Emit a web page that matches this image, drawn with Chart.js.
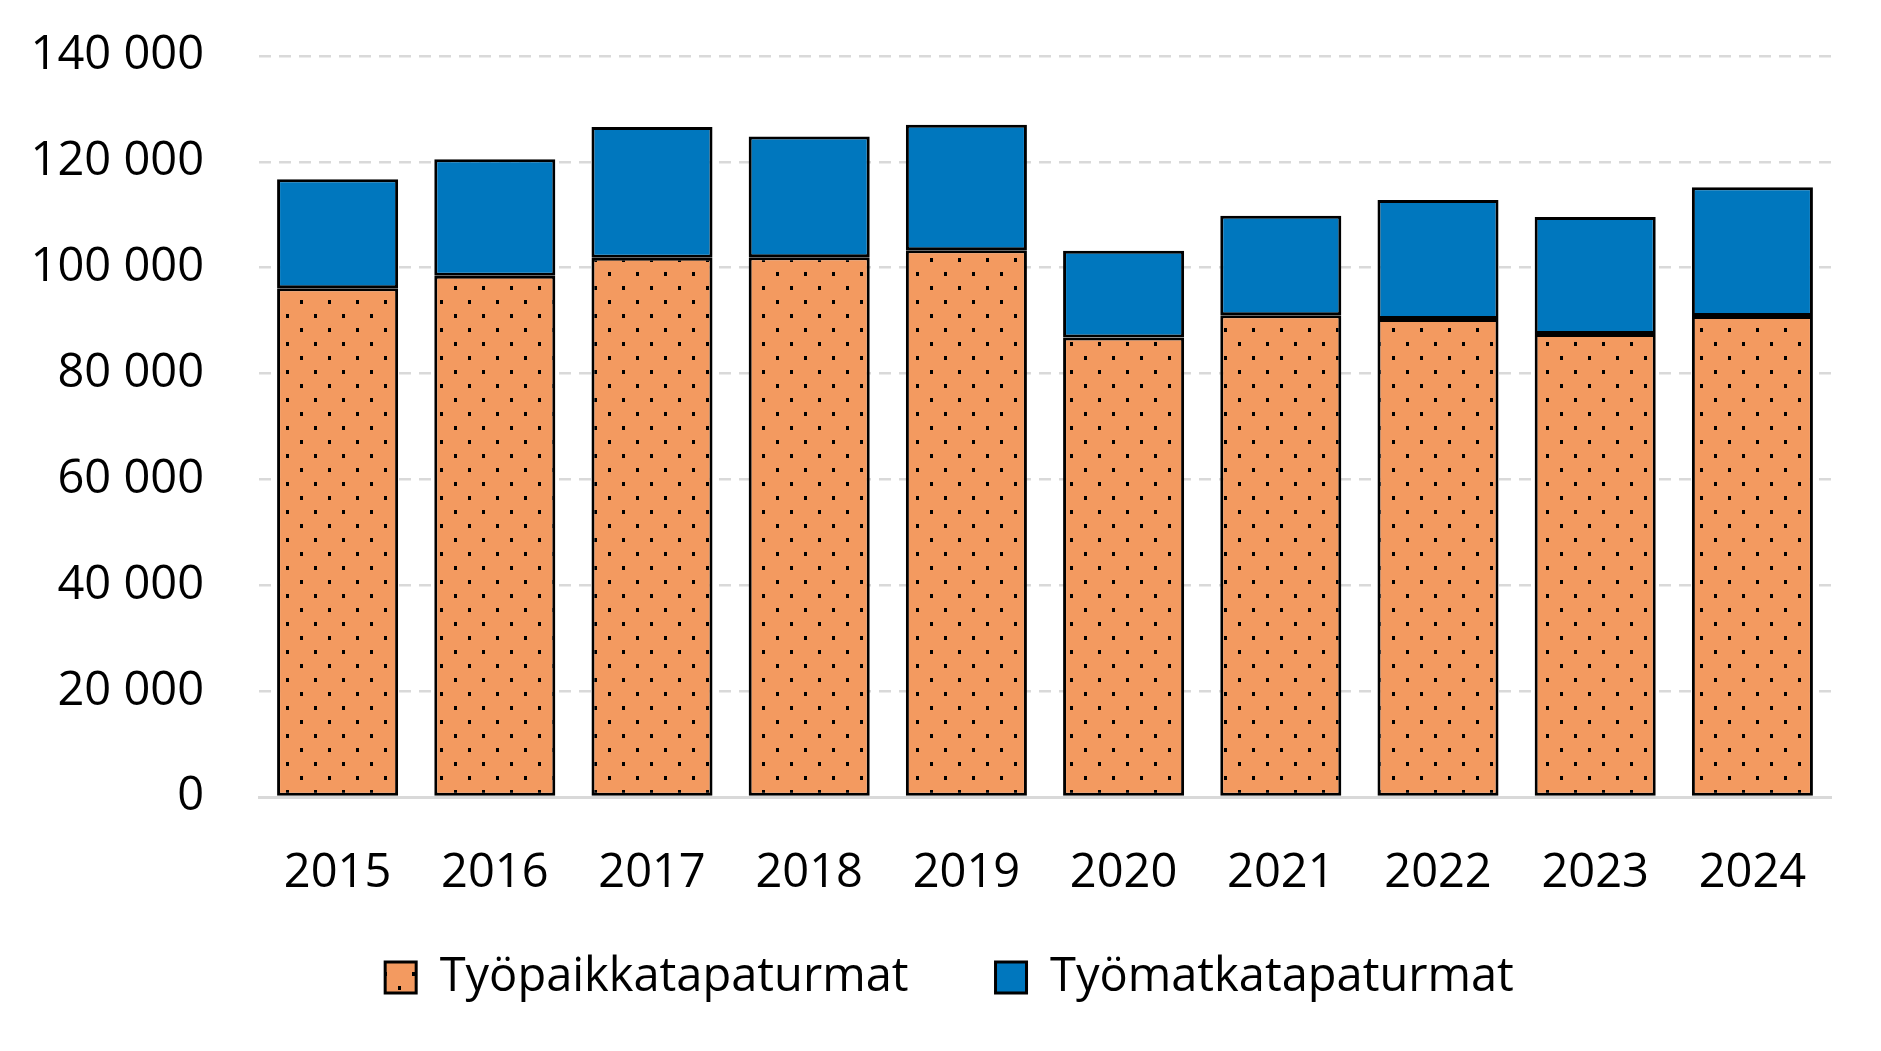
<!DOCTYPE html>
<html>
<head>
<meta charset="utf-8">
<script src="https://cdn.jsdelivr.net/npm/chart.js@4"></script>
<style>
	html, body { margin: 0; padding: 0; background: #fff; }
	#wrap { width: 1881px; height: 1051px; }
</style>
</head>
<body>
<div id="wrap"><canvas id="barChart"></canvas></div>
<script>
const years = ['2015', '2016', '2017', '2018', '2019', '2020', '2021', '2022', '2023', '2024'];
const tyopaikka = [96100, 98500, 101900, 102000, 103300, 86800, 91000, 90300, 87500, 90900];
const tyomatka = [20600, 22000, 24700, 22800, 23700, 16400, 18800, 22500, 22100, 24300];
const yTicks = [0, 20000, 40000, 60000, 80000, 100000, 120000, 140000];

const FONT = '"Open Sans", "Noto Sans", sans-serif';

function dotPattern() {
	const c = document.createElement('canvas');
	c.width = 28;
	c.height = 28;
	const g = c.getContext('2d');
	g.fillStyle = '#F39A60';
	g.fillRect(0, 0, 28, 28);
	g.fillStyle = '#000';
	g.fillRect(6, 6, 3, 4);
	g.fillRect(20, 20, 3, 4);
	return g.createPattern(c, 'repeat');
}

const fmt = v => String(v).replace(/\B(?=(\d{3})+(?!\d))/g, ' ');

// legend padding also spaces the two items apart, so pull the row back up a bit
const liftLegend = {
	id: 'liftLegend',
	afterLayout(chart) {
		const lg = chart.legend;
		lg.top -= 40;
		lg.bottom -= 40;
		lg.left += 34;
		lg.right += 34;
	}
};

const ctx = document.getElementById('barChart').getContext('2d');

// eslint-disable-next-line no-undef
new Chart(ctx, {
	type: 'bar',
	data: {
		labels: years,
		datasets: [{
			label: 'Työpaikkatapaturmat',
			data: tyopaikka,
			backgroundColor: dotPattern(),
			borderColor: '#000',
			borderWidth: 3,
			borderSkipped: false
		}, {
			label: 'Työmatkatapaturmat',
			data: tyomatka,
			backgroundColor: '#0077BE',
			borderColor: '#000',
			borderWidth: 3,
			borderSkipped: false
		}]
	},
	plugins: [liftLegend],
	options: {
		responsive: true,
		maintainAspectRatio: false,
		animation: false,
		layout: { padding: { top: 56, right: 50, bottom: 0, left: 0 } },
		datasets: { bar: { barPercentage: 0.77, categoryPercentage: 1 } },
		scales: {
			x: {
				stacked: true,
				grid: { display: false, drawTicks: false },
				border: { display: true, color: '#D9D9D9', width: 3 },
				ticks: { color: '#000', padding: 48, font: { family: FONT, size: 47 } },
				afterFit: s => { s.height = 110; }
			},
			y: {
				stacked: true,
				min: 0,
				max: 140000,
				afterBuildTicks: s => { s.ticks = yTicks.map(v => ({ value: v })); },
				grid: { color: '#D9D9D9', lineWidth: 2.5, drawTicks: true, tickLength: 55, tickColor: 'transparent' },
				border: { display: false, dash: [12, 8] },
				ticks: {
					color: '#000',
					padding: 0,
					font: { family: FONT, size: 47 },
					callback: v => fmt(v)
				},
				afterFit: s => { s.width = 259; }
			}
		},
		plugins: {
			legend: {
				position: 'bottom',
				labels: {
					color: '#000',
					boxWidth: 31,
					boxHeight: 31,
					padding: 87,
					font: { family: FONT, size: 47 }
				}
			},
			tooltip: { enabled: false }
		}
	}
});
</script>
</body>
</html>
